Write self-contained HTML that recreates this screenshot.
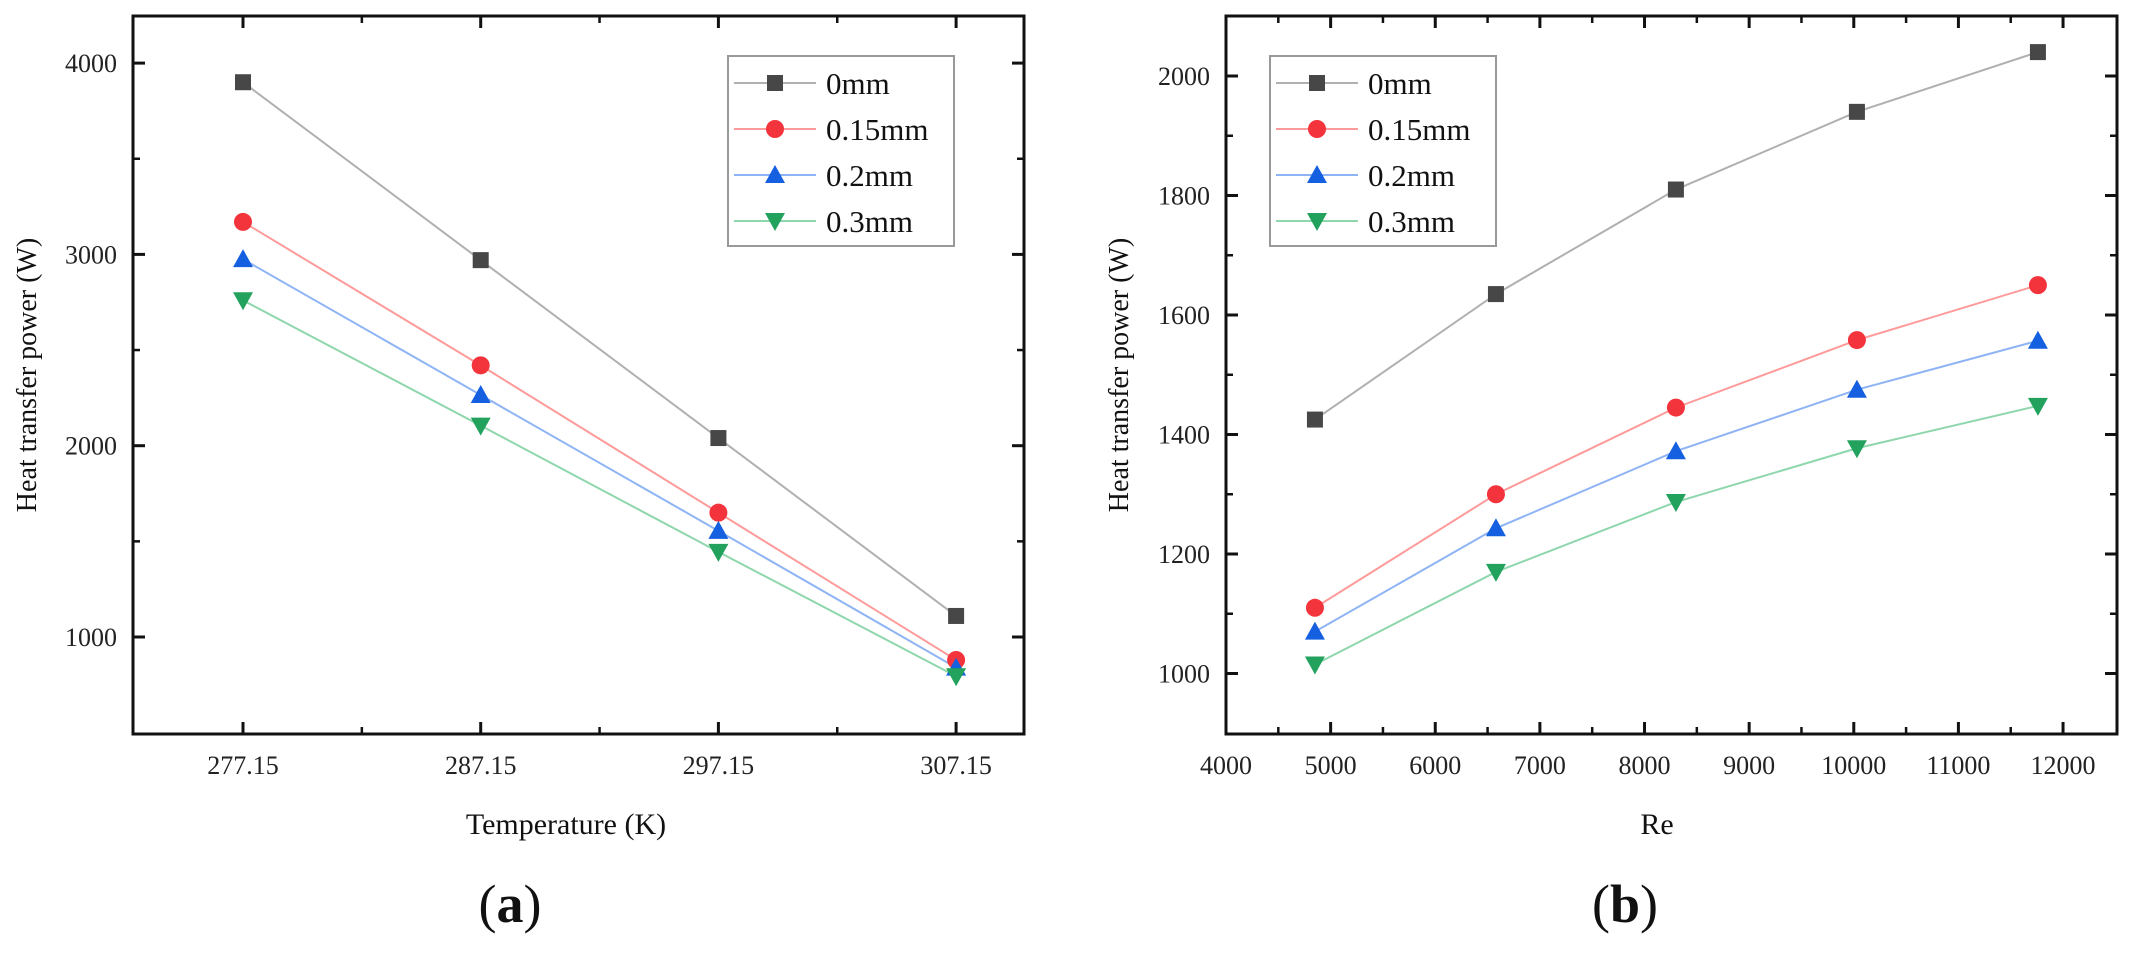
<!DOCTYPE html>
<html><head><meta charset="utf-8">
<style>
html,body{margin:0;padding:0;background:#fff;}
svg{display:block;font-family:"Liberation Serif",serif;}
</style></head>
<body>
<svg id="fig" width="2135" height="964" viewBox="0 0 2135 964" xmlns="http://www.w3.org/2000/svg"></svg>
<script>
// ---- Chart (a) data ----
const tempCats = [277.15, 287.15, 297.15, 307.15];
const a_0mm = [3900, 2970, 2040, 1110];
const a_015mm = [3170, 2420, 1650, 880];
const a_02mm = [2975, 2265, 1555, 840];
const a_03mm = [2760, 2105, 1445, 795];
const aYTicks = [1000, 2000, 3000, 4000];
const aXTickLabels = ["277.15", "287.15", "297.15", "307.15"];
// ---- Chart (b) data ----
const reVals = [4850, 6580, 8300, 10030, 11760];
const b_0mm = [1425, 1635, 1810, 1940, 2040];
const b_015mm = [1110, 1300, 1445, 1558, 1650];
const b_02mm = [1070, 1243, 1372, 1475, 1557];
const b_03mm = [1015, 1170, 1287, 1377, 1448];
const bYTicks = [1000, 1200, 1400, 1600, 1800, 2000];
const bXTicks = [4000, 5000, 6000, 7000, 8000, 9000, 10000, 11000, 12000];
const seriesNames = ["0mm", "0.15mm", "0.2mm", "0.3mm"];

const NS = "http://www.w3.org/2000/svg";
const svg = document.getElementById("fig");
function mk(tag, attrs, parent, text) {
  const e = document.createElementNS(NS, tag);
  for (const k in attrs) e.setAttribute(k, attrs[k]);
  if (text !== undefined) e.textContent = text;
  (parent || svg).appendChild(e);
  return e;
}
const lineCols = ["#b0b0b0", "#ff9a9a", "#8fb4f5", "#8ed6ab"];
const markCols = ["#474747", "#f4343c", "#1560e0", "#23a25e"];

function marker(g, kind, x, y, name) {
  let e;
  if (kind === 0) e = mk("rect", {x: x - 8, y: y - 8, width: 16, height: 16, fill: markCols[0]}, g);
  else if (kind === 1) e = mk("circle", {cx: x, cy: y, r: 9, fill: markCols[1]}, g);
  else if (kind === 2) e = mk("polygon", {points: `${x},${y-10} ${x+10},${y+8} ${x-10},${y+8}`, fill: markCols[2]}, g);
  else e = mk("polygon", {points: `${x-10},${y-8} ${x+10},${y-8} ${x},${y+10}`, fill: markCols[3]}, g);
  
  
}

function drawChart(cfg) {
  const g = mk("g", {});
  
  
  const {L, R, T, B} = cfg;
  const fr = mk("rect", {x: L, y: T, width: R - L, height: B - T, fill: "none", stroke: "#111", "stroke-width": 3}, g);
  
  
  cfg.yTicks.forEach((v, i) => {
    const y = cfg.sy(v);
    mk("line", {x1: L, x2: L + 12, y1: y, y2: y, stroke: "#111", "stroke-width": 3}, g);
    mk("line", {x1: R, x2: R - 12, y1: y, y2: y, stroke: "#111", "stroke-width": 3}, g);
    const ym = cfg.sy(v + cfg.yStep / 2);
    if (ym > T + 2) {
      mk("line", {x1: L, x2: L + 7, y1: ym, y2: ym, stroke: "#111", "stroke-width": 2.5}, g);
      mk("line", {x1: R, x2: R - 7, y1: ym, y2: ym, stroke: "#111", "stroke-width": 2.5}, g);
    }
    if (i === 0) {
      const y0 = cfg.sy(v - cfg.yStep / 2);
      if (y0 < B - 2) {
        mk("line", {x1: L, x2: L + 7, y1: y0, y2: y0, stroke: "#111", "stroke-width": 2.5}, g);
        mk("line", {x1: R, x2: R - 7, y1: y0, y2: y0, stroke: "#111", "stroke-width": 2.5}, g);
      }
    }
    const t = mk("text", {x: L - 16, y: y + 9, "text-anchor": "end", "font-size": 26, fill: "#222"}, g, String(v));
    
    
  });
  cfg.xTicks.forEach((v, i) => {
    const x = cfg.sx(v);
    mk("line", {x1: x, x2: x, y1: B, y2: B - 12, stroke: "#111", "stroke-width": 3}, g);
    mk("line", {x1: x, x2: x, y1: T, y2: T + 12, stroke: "#111", "stroke-width": 3}, g);
    const xm = cfg.sx(v + cfg.xStep / 2);
    if (xm < R - 2) {
      mk("line", {x1: xm, x2: xm, y1: B, y2: B - 7, stroke: "#111", "stroke-width": 2.5}, g);
      mk("line", {x1: xm, x2: xm, y1: T, y2: T + 7, stroke: "#111", "stroke-width": 2.5}, g);
    }
    const t = mk("text", {x: x, y: B + 40, "text-anchor": "middle", "font-size": 26, fill: "#222"}, g, cfg.xLabels[i]);
    
    
  });
  cfg.series.forEach((s, k) => {
    const pts = s.map((v, i) => `${cfg.sx(cfg.xs[i])},${cfg.sy(v)}`).join(" ");
    const pl = mk("polyline", {points: pts, fill: "none", stroke: lineCols[k], "stroke-width": 2}, g);
    
    
  });
  cfg.series.forEach((s, k) => {
    s.forEach((v, i) => marker(g, k, cfg.sx(cfg.xs[i]), cfg.sy(v), 'point-' + seriesNames[k]));
  });
  const lg = mk("g", {}, g);
  
  
  const lx = cfg.legX, ly = cfg.legY;
  mk("rect", {x: lx, y: ly, width: 226, height: 190, fill: "#fff", stroke: "#999", "stroke-width": 2}, lg);
  seriesNames.forEach((n, k) => {
    const yy = ly + 27 + k * 46;
    const e = mk("g", {}, lg);
    
    
    mk("line", {x1: lx + 6, x2: lx + 88, y1: yy, y2: yy, stroke: lineCols[k], "stroke-width": 2}, e);
    marker(e, k, lx + 47, yy, 'legend-marker');
    mk("text", {x: lx + 98, y: yy + 11, "font-size": 31, fill: "#111"}, e, n);
  });
  const xt = mk("text", {x: cfg.xTitleX, y: B + 100, "text-anchor": "middle", "font-size": 30, fill: "#111"}, g, cfg.xTitle);
  
  
  const yt = mk("text", {x: 0, y: 0, transform: `translate(${cfg.yTitleX},${(T + B) / 2}) rotate(-90)`, "text-anchor": "middle", "font-size": 28, fill: "#111"}, g, "Heat transfer power (W)");
  
  
  const cap = mk("text", {x: cfg.capX, y: 922, "text-anchor": "middle", "font-size": 54, fill: "#111"}, g);
  
  
  mk("tspan", {}, cap, "(");
  mk("tspan", {"font-weight": "bold"}, cap, cfg.cap);
  mk("tspan", {}, cap, ")");
}

drawChart({
  name: "chart-a",
  L: 133, R: 1024, T: 16, B: 734,
  sx: v => 243 + (v - 277.15) * 23.77,
  sy: v => 637 - (v - 1000) * 0.1913,
  xs: tempCats, xTicks: tempCats, xLabels: aXTickLabels, xStep: 10,
  yTicks: aYTicks, yStep: 1000,
  series: [a_0mm, a_015mm, a_02mm, a_03mm],
  legX: 728, legY: 56,
  xTitle: "Temperature (K)", xTitleX: 566, yTitleX: 36,
  capX: 510, cap: "a"
});
drawChart({
  name: "chart-b",
  L: 1226, R: 2117, T: 16, B: 734,
  sx: v => 1226 + (v - 4000) * 0.10463,
  sy: v => 673.5 - (v - 1000) * 0.5975,
  xs: reVals, xTicks: bXTicks, xLabels: bXTicks.map(String), xStep: 1000,
  yTicks: bYTicks, yStep: 200,
  series: [b_0mm, b_015mm, b_02mm, b_03mm],
  legX: 1270, legY: 56,
  xTitle: "Re", xTitleX: 1657, yTitleX: 1128,
  capX: 1625, cap: "b"
});
</script>
</body></html>
